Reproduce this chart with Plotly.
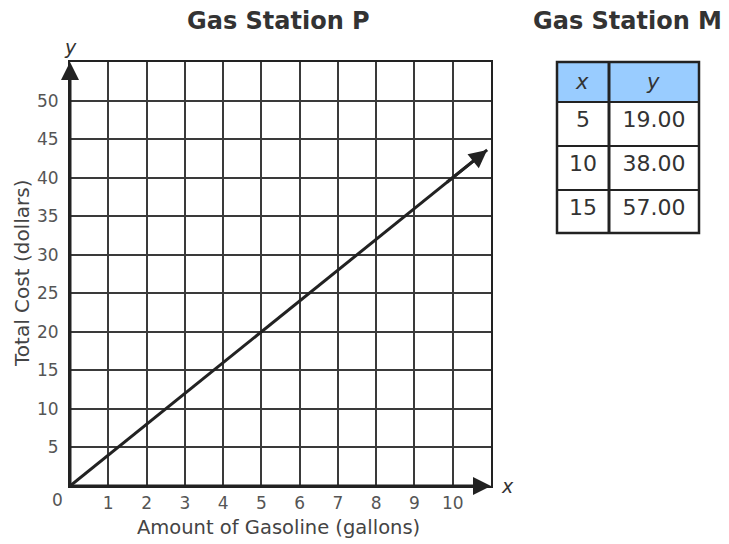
import plotly.graph_objects as go

# ---- data ----
gallons_p = [0, 10.9]          # Gas Station P line (y = 4x), arrow at end
cost_p = [0, 43.6]
x_ticks = [1, 2, 3, 4, 5, 6, 7, 8, 9, 10]
y_ticks = [5, 10, 15, 20, 25, 30, 35, 40, 45, 50]
table_x = ["5", "10", "15"]
table_y = ["19.00", "38.00", "57.00"]

FONT = "DejaVu Sans, Verdana, sans-serif"
DARK = "#222222"
GRID = "#3a3a3a"
TICK = "#555555"

OFF = 8  # page body margin
W, H = 729 - OFF, 544 - OFF
L, R, T, B = 70 - OFF, 30, 62 - OFF, 58
PW, PH = W - L - R, H - T - B
def px(xp):  # reference pixel x -> paper
    return (xp - OFF - L) / PW
def py(yp):  # reference pixel y -> paper
    return (H - B - (yp - OFF)) / PH

fig = go.Figure()

fig.add_trace(go.Scatter(
    x=gallons_p, y=cost_p, mode="lines",
    line=dict(color=DARK, width=3),
    hoverinfo="skip", showlegend=False, cliponaxis=False,
))
# arrowhead at the end of the Gas Station P line, along its own direction
fig.add_annotation(x=gallons_p[-1], y=cost_p[-1],
                   ax=gallons_p[-1] - (gallons_p[-1] - gallons_p[0]) * 0.1,
                   ay=cost_p[-1] - (cost_p[-1] - cost_p[0]) * 0.1,
                   xref="x", yref="y", axref="x", ayref="y",
                   showarrow=True, arrowhead=2, arrowsize=1.2, arrowwidth=3,
                   arrowcolor=DARK, text="")

fig.add_trace(go.Table(
    domain=dict(x=[px(557), 1.0], y=[py(233), 1.0]),
    columnwidth=[52, 90],
    header=dict(values=["<i>x</i>", "<i>y</i>"], fill_color="#99ccff",
                line=dict(color=DARK, width=1.5), height=40,
                font=dict(family=FONT, size=21, color="#333333"), align="center"),
    cells=dict(values=[table_x, table_y], fill_color="white",
               line=dict(color=DARK, width=1.5), height=44,
               font=dict(family=FONT, size=22, color="#333333"), align="center"),
))

fig.update_xaxes(domain=[0, px(491)], range=[0, 11], showgrid=True,
                 gridcolor=GRID, gridwidth=1.5, zeroline=False,
                 showline=True, mirror=True, linecolor=DARK, linewidth=2,
                 tickmode="array", tickvals=x_ticks, ticktext=[str(v) for v in x_ticks],
                 tickfont=dict(family=FONT, size=17, color=TICK), ticks="",
                 ticklabelstandoff=1, fixedrange=True)
fig.update_yaxes(range=[0, 55], showgrid=True, gridcolor=GRID, gridwidth=1.5,
                 zeroline=False, showline=True, mirror=True, linecolor=DARK, linewidth=2,
                 tickmode="array", tickvals=y_ticks, ticktext=[str(v) for v in y_ticks],
                 tickfont=dict(family=FONT, size=17, color=TICK), ticks="",
                 ticklabelstandoff=6, fixedrange=True)

# axes arrows
fig.add_annotation(x=0, y=55, ax=0, ay=0, xref="x", yref="y", axref="x", ayref="y",
                   showarrow=True, arrowhead=2, arrowsize=1.2, arrowwidth=3,
                   arrowcolor=DARK, text="")
fig.add_annotation(x=11, y=0, ax=0, ay=0, xref="x", yref="y", axref="x", ayref="y",
                   showarrow=True, arrowhead=2, arrowsize=1.2, arrowwidth=3,
                   arrowcolor=DARK, text="")

ann = dict(showarrow=False, xref="paper", yref="paper")
fig.add_annotation(text="0", x=px(57), y=py(500), xanchor="center", yanchor="middle",
                   font=dict(family=FONT, size=17, color=TICK), **ann)
fig.add_annotation(text="<i>y</i>", x=px(70), y=py(47), xanchor="center", yanchor="middle",
                   font=dict(family=FONT, size=19, color="#333333"), **ann)
fig.add_annotation(text="<i>x</i>", x=px(507), y=py(486), xanchor="center", yanchor="middle",
                   font=dict(family=FONT, size=19, color="#333333"), **ann)
fig.add_annotation(text="Total Cost (dollars)", x=px(22), y=py(274), textangle=-90,
                   xanchor="center", yanchor="middle",
                   font=dict(family=FONT, size=20, color="#444444"), **ann)
fig.add_annotation(text="Amount of Gasoline (gallons)", x=px(278), y=py(527),
                   xanchor="center", yanchor="middle",
                   font=dict(family=FONT, size=19.5, color="#444444"), **ann)
fig.add_annotation(text="<b>Gas Station P</b>", x=px(278), y=py(21),
                   xanchor="center", yanchor="middle",
                   font=dict(family=FONT, size=24, color="#333333"), **ann)
fig.add_annotation(text="<b>Gas Station M</b>", x=px(627), y=py(21),
                   xanchor="center", yanchor="middle",
                   font=dict(family=FONT, size=24, color="#333333"), **ann)

# table outer border and thick divider
fig.add_shape(type="rect", xref="paper", yref="paper", x0=px(557), x1=px(699),
              y0=py(233), y1=py(62), line=dict(color=DARK, width=2.5))
fig.add_shape(type="line", xref="paper", yref="paper", x0=px(609), x1=px(609),
              y0=py(233), y1=py(62), line=dict(color=DARK, width=3))

fig.update_layout(width=W, height=H, margin=dict(l=L, r=R, t=T, b=B),
                  plot_bgcolor="white", paper_bgcolor="white", showlegend=False)

fig.write_html("out.html")
